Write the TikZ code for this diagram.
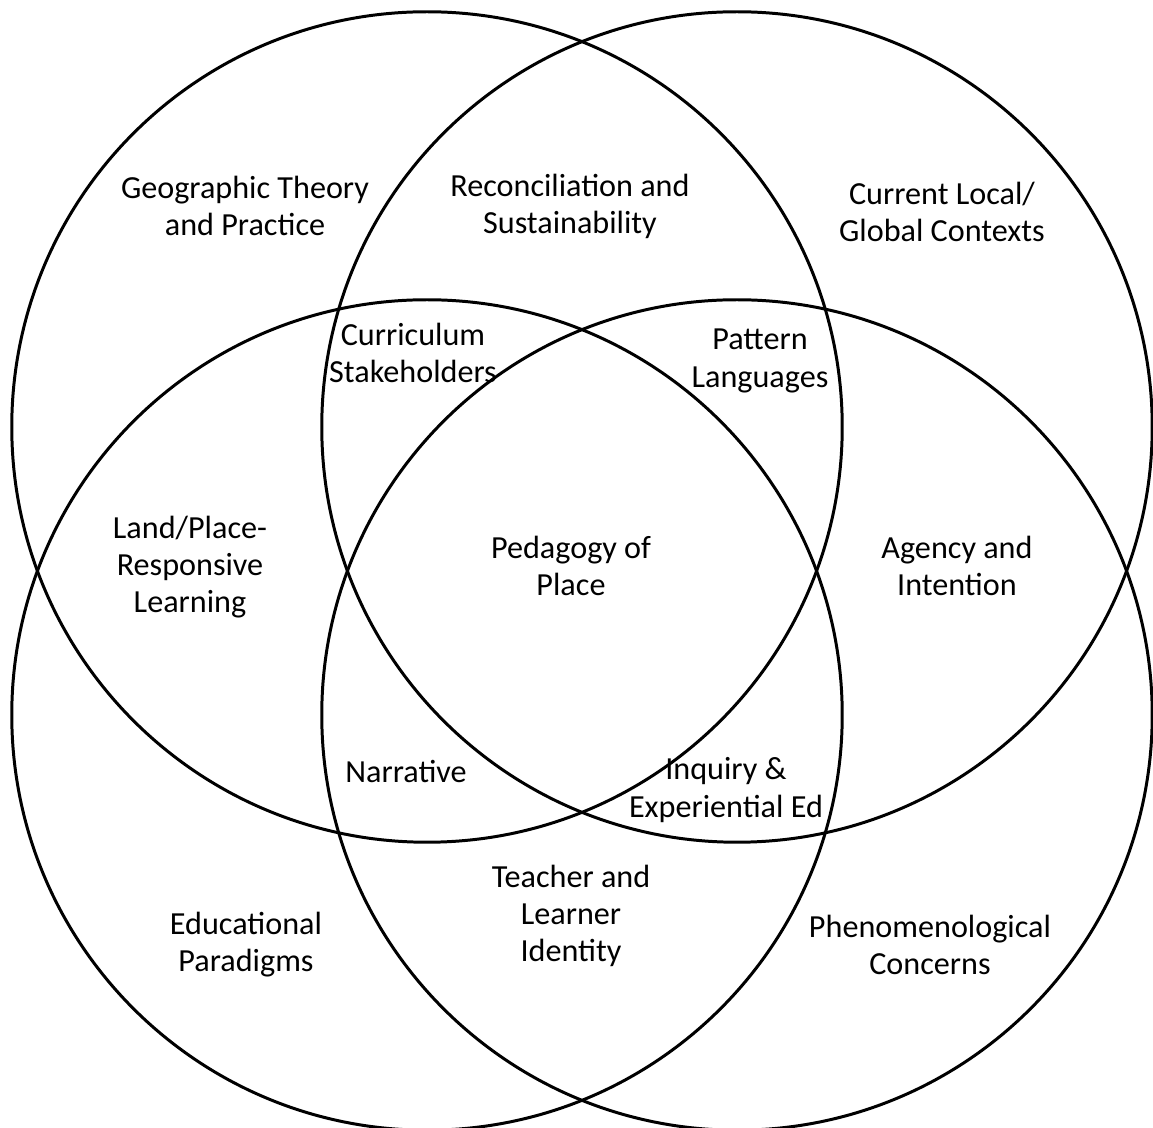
\documentclass[tikz,border=0pt]{standalone}
\usepackage{fontspec}
\setmainfont{Carlito}
\begin{document}
\begin{tikzpicture}[x=0.01cm,y=-0.01cm,
  ring/.style={draw=black,line width=0.85pt},
  lbl/.style={align=center,inner sep=0pt,font=\fontsize{9.15pt}{10.55pt}\selectfont}]
\fill[white] (0,0) rectangle (1153,1128);
\useasboundingbox (0,0) rectangle (1153,1128);
\coordinate (c1) at (427,427);
\coordinate (c2) at (737,427);
\coordinate (c3) at (427,715);
\coordinate (c4) at (737,715);
\draw[ring] (c1) circle[radius=4.15cm];
\draw[ring] (c2) circle[radius=4.15cm];
\draw[ring] (c3) circle[radius=4.15cm];
\draw[ring] (c4) circle[radius=4.15cm];
\node[lbl] (geo) at (245,206) {Geographic Theory\\and Practice};
\node[lbl] (rec) at (570,206) {Reconciliation and\\Sustainability};
\node[lbl] (cur) at (942,212) {Current Local/\\Global Contexts};
\node[lbl] (stk) at (413,353) {Curriculum\\Stakeholders};
\node[lbl] (pat) at (760,361) {Pattern\\Languages};
\node[lbl] (land) at (190,567) {Land/Place-\\Responsive\\Learning};
\node[lbl] (ped) at (571,566) {Pedagogy of\\Place};
\node[lbl] (agy) at (957,566) {Agency and\\Intention};
\node[lbl] (nar) at (406,772) {Narrative};
\node[lbl] (inq) at (726,790) {Inquiry \&\\Experiential Ed};
\node[lbl] (tea) at (571,916) {Teacher and\\Learner\\Identity};
\node[lbl] (edu) at (246,945) {Educational\\Paradigms};
\node[lbl] (phe) at (930,945) {Phenomenological\\Concerns};
\end{tikzpicture}
\end{document}
